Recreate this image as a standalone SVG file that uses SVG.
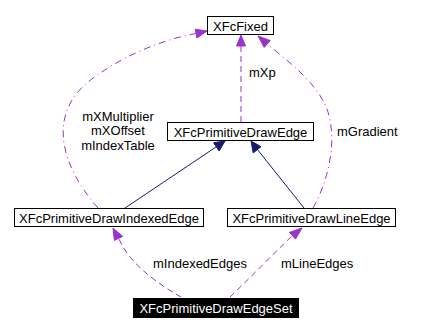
<svg xmlns="http://www.w3.org/2000/svg" width="448" height="332" viewBox="0 0 448 332">
  <style>
    text { font-family: "Liberation Sans", Arial, sans-serif; font-size: 13px; fill: #000; }
    .box { fill: #fff; stroke: #000; stroke-width: 1; }
    .mid { text-anchor: middle; }
    .inherit { fill: none; stroke: #191970; stroke-width: 1; }
    .use { fill: none; stroke: #9a32cd; stroke-width: 1; stroke-dasharray: 6,4; }
    .usedot { fill: none; stroke: #9a32cd; stroke-width: 1; stroke-dasharray: 7,4,1,4; }
    .headInherit { fill: #191970; stroke: #191970; }
    .headUse { fill: #9a32cd; stroke: #9a32cd; }
  </style>

  <rect width="448" height="332" fill="#fff"/>

  <!-- connectors -->
  <g id="edges">
    <!-- inheritance: IndexedEdge -> DrawEdge -->
    <path class="inherit" d="M125,208 L216,147"/>
    <polygon class="headInherit" points="225,141 219.2,151 213.6,142.7"/>
    <!-- inheritance: LineEdge -> DrawEdge -->
    <path class="inherit" d="M304,208 L257,149"/>
    <polygon class="headInherit" points="251,141 261,146.7 253.2,152.9"/>

    <!-- mXp -->
    <path class="use" d="M241,122 L241,46"/>
    <polygon class="headUse" points="241,35 245.5,46 236.5,46"/>

    <!-- mXMultiplier / mXOffset / mIndexTable -->
    <path class="usedot" d="M98,208 C60,165 48,115 88,82 C118,58 160,40 196,33.5"/>
    <polygon class="headUse" points="207,31 196.9,38.1 195.3,29.2"/>

    <!-- mGradient -->
    <path class="usedot" d="M313,208 C326,185 336,150 330,120 C325,92 300,70 267,44"/>
    <polygon class="headUse" points="258,36 270.2,40.6 264.2,47.4"/>

    <!-- mIndexedEdges -->
    <path class="use" d="M181,297 C160,285 130,265 119,239"/>
    <polygon class="headUse" points="113,228 122.6,236.4 114.4,240.4"/>

    <!-- mLineEdges -->
    <path class="use" d="M230,297 C250,278 272,255 292,236"/>
    <polygon class="headUse" points="302,228 295.5,239.1 289.4,232.4"/>
  </g>

  <!-- edge labels -->
  <g id="labels">
    <text x="249" y="77">mXp</text>
    <text x="337" y="136">mGradient</text>
    <text class="mid" x="118" y="120.5">mXMultiplier</text>
    <text class="mid" x="118" y="135">mXOffset</text>
    <text class="mid" x="118" y="149.5">mIndexTable</text>
    <text x="153" y="268">mIndexedEdges</text>
    <text x="281" y="268">mLineEdges</text>
  </g>

  <!-- nodes -->
  <g id="XFcFixed">
    <rect class="box" x="207.5" y="16.5" width="66" height="18"/>
    <text class="mid" x="240.5" y="30.5">XFcFixed</text>
  </g>
  <g id="XFcPrimitiveDrawEdge">
    <rect class="box" x="167.5" y="122.5" width="146" height="18"/>
    <text class="mid" x="240.5" y="136.5">XFcPrimitiveDrawEdge</text>
  </g>
  <g id="XFcPrimitiveDrawIndexedEdge">
    <rect class="box" x="14.5" y="208.5" width="189" height="18"/>
    <text class="mid" x="109" y="222.5">XFcPrimitiveDrawIndexedEdge</text>
  </g>
  <g id="XFcPrimitiveDrawLineEdge">
    <rect class="box" x="227.5" y="208.5" width="168" height="18"/>
    <text class="mid" x="311.5" y="222.5">XFcPrimitiveDrawLineEdge</text>
  </g>
  <g id="XFcPrimitiveDrawEdgeSet">
    <rect x="133" y="298" width="166" height="20" fill="#000"/>
    <text class="mid" x="216" y="312.5" style="fill:#fff">XFcPrimitiveDrawEdgeSet</text>
  </g>
</svg>
